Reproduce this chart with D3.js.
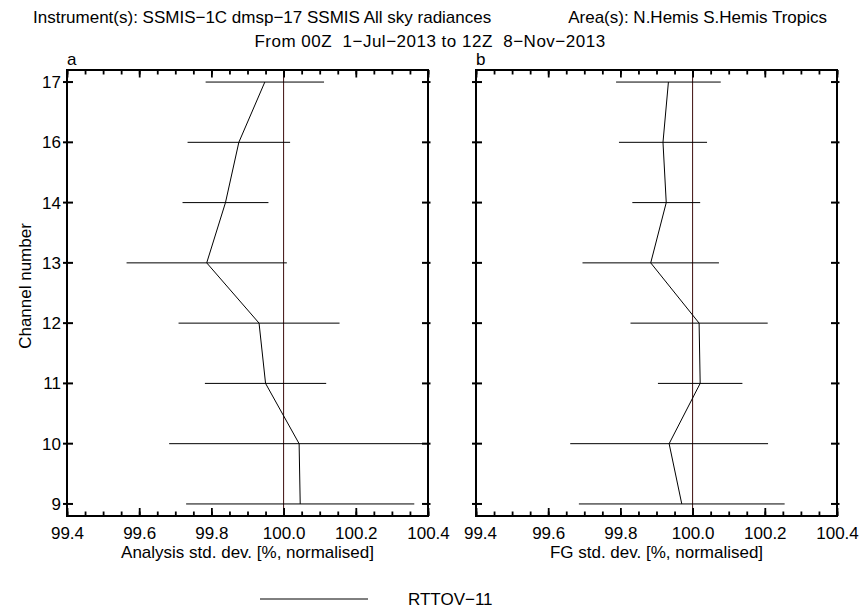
<!DOCTYPE html>
<html>
<head>
<meta charset="utf-8">
<script src="https://cdn.jsdelivr.net/npm/d3@7"></script>
<style>
  html, body { margin: 0; padding: 0; background: #fff; }
  svg { display: block; font-family: "Liberation Sans", Arial, Helvetica, sans-serif; }
</style>
</head>
<body>
<svg id="chart" width="864" height="613"></svg>
<script>
// Channels shown on the vertical axis (bottom to top)
const channels = ["9", "10", "11", "12", "13", "14", "16", "17"];

// Analysis departure std. dev., normalised [%]: mean and half-width of the confidence bar
const analysisMean = [100.046, 100.043, 99.950, 99.932, 99.787, 99.839, 99.876, 99.948];
const analysisErr  = [0.316, 0.360, 0.168, 0.223, 0.222, 0.119, 0.142, 0.164];

// First-guess departure std. dev., normalised [%]
const fgMean = [99.970, 99.935, 100.021, 100.018, 99.884, 99.927, 99.918, 99.933];
const fgErr  = [0.285, 0.274, 0.117, 0.190, 0.189, 0.094, 0.122, 0.145];

const xMajorTicks = [99.4, 99.6, 99.8, 100.0, 100.2, 100.4];
const xDomain = [99.4, 100.4];
const refValue = 100.0;

const titleLeft = "Instrument(s): SSMIS\u22121C dmsp\u221217 SSMIS All sky radiances";
const titleRight = "Area(s): N.Hemis S.Hemis Tropics";
const subtitle = "From 00Z  1\u2212Jul\u22122013 to 12Z  8\u2212Nov\u22122013";
const seriesName = "RTTOV\u221211";

const svg = d3.select("#chart");
const FONT = 17;

// Titles
svg.append("text").attr("x", 33).attr("y", 23).attr("font-size", FONT)
  .attr("xml:space", "preserve").text(titleLeft);
svg.append("text").attr("x", 827).attr("y", 23).attr("font-size", FONT)
  .attr("text-anchor", "end").text(titleRight);
svg.append("text").attr("x", 430).attr("y", 47).attr("font-size", FONT)
  .attr("letter-spacing", 0.5)
  .attr("text-anchor", "middle").attr("xml:space", "preserve").text(subtitle);

const plotTop = 70, plotBottom = 516;
const panels = [
  { id: "a", left: 67, right: 428, mean: analysisMean, err: analysisErr,
    xlabel: "Analysis std. dev. [%, normalised]", yAxis: true },
  { id: "b", left: 476, right: 837, mean: fgMean, err: fgErr,
    xlabel: "FG std. dev. [%, normalised]", yAxis: false }
];

const y = d3.scalePoint().domain(channels).range([plotBottom, plotTop]).padding(0.2);
const minorTicks = d3.range(0, 21).map(i => +(99.4 + i * 0.05).toFixed(2));

panels.forEach((p, pi) => {
  const x = d3.scaleLinear().domain(xDomain).range([p.left, p.right]);
  const g = svg.append("g");

  const clipId = "clip-" + p.id;
  svg.append("clipPath").attr("id", clipId).append("rect")
    .attr("x", p.left).attr("y", plotTop)
    .attr("width", p.right - p.left).attr("height", plotBottom - plotTop);

  const data = channels.map((c, i) => ({ c, m: p.mean[i], e: p.err[i] }));
  const plot = g.append("g").attr("clip-path", `url(#${clipId})`);

  // Reference line at 100 %
  plot.append("line")
    .attr("x1", x(refValue)).attr("x2", x(refValue))
    .attr("y1", plotTop).attr("y2", plotBottom)
    .attr("stroke", "#3c0c0c").attr("stroke-width", 1);

  // Confidence bars
  plot.selectAll("line.err").data(data).enter().append("line")
    .attr("class", "err")
    .attr("x1", d => x(d.m - d.e)).attr("x2", d => x(d.m + d.e))
    .attr("y1", d => y(d.c)).attr("y2", d => y(d.c))
    .attr("stroke", "#000").attr("stroke-width", 1);

  // Profile line
  plot.append("path").datum(data)
    .attr("fill", "none").attr("stroke", "#000").attr("stroke-width", 1)
    .attr("d", d3.line().x(d => x(d.m)).y(d => y(d.c)));

  // Bottom axis: major ticks with labels, minor ticks
  const bMinor = g.append("g").attr("transform", `translate(0,${plotBottom})`)
    .call(d3.axisBottom(x).tickValues(minorTicks).tickSize(-4.5).tickFormat(""));
  const bMajor = g.append("g").attr("transform", `translate(0,${plotBottom})`)
    .call(d3.axisBottom(x).tickValues(xMajorTicks).tickSize(-8).tickPadding(12)
      .tickFormat(d3.format(".1f")));
  bMajor.selectAll("text").attr("font-size", FONT).attr("fill", "#000")
    .attr("font-family", "Liberation Sans, Arial, sans-serif")
    .attr("dy", "0.71em").attr("y", 11);
  if (pi === 1) bMajor.selectAll("text").filter(d => d === 99.4).attr("dx", 4);

  // Top axis: inward ticks, no labels
  const tMinor = g.append("g").attr("transform", `translate(0,${plotTop})`)
    .call(d3.axisTop(x).tickValues(minorTicks).tickSize(-4.5).tickFormat(""));
  const tMajor = g.append("g").attr("transform", `translate(0,${plotTop})`)
    .call(d3.axisTop(x).tickValues(xMajorTicks).tickSize(-7.5).tickFormat(""));

  [bMinor, bMajor, tMinor, tMajor].forEach(a => {
    a.select(".domain").remove();
    a.selectAll(".tick line").attr("stroke", "#000").attr("stroke-width", 1.8);
  });

  // Channel ticks crossing the frame on both sides
  g.selectAll("line.ytl").data(channels).enter().append("line")
    .attr("x1", p.left - 4).attr("x2", p.left + 6)
    .attr("y1", d => y(d)).attr("y2", d => y(d))
    .attr("stroke", "#000").attr("stroke-width", 2);
  g.selectAll("line.ytr").data(channels).enter().append("line")
    .attr("x1", p.right - 6).attr("x2", p.right + 2.5)
    .attr("y1", d => y(d)).attr("y2", d => y(d))
    .attr("stroke", "#000").attr("stroke-width", 2);

  if (p.yAxis) {
    const ya = g.append("g").attr("transform", `translate(${p.left},0)`)
      .call(d3.axisLeft(y).tickSize(0).tickPadding(6));
    ya.select(".domain").remove();
    ya.selectAll("text").attr("font-size", FONT).attr("fill", "#000")
      .attr("font-family", "Liberation Sans, Arial, sans-serif");
  }

  // Frame
  g.append("rect")
    .attr("x", p.left).attr("y", plotTop)
    .attr("width", p.right - p.left).attr("height", plotBottom - plotTop)
    .attr("fill", "none").attr("stroke", "#000").attr("stroke-width", 2);

  // Panel letter
  g.append("text").attr("x", p.left).attr("y", 65).attr("font-size", FONT).text(p.id);

  // X axis title
  g.append("text").attr("x", (p.left + p.right) / 2).attr("y", 558)
    .attr("text-anchor", "middle").attr("font-size", FONT).text(p.xlabel);
});

// Y axis title
svg.append("text")
  .attr("transform", "translate(31,286) rotate(-90)")
  .attr("text-anchor", "middle").attr("font-size", FONT)
  .text("Channel number");

// Legend
svg.append("line").attr("x1", 260).attr("x2", 368).attr("y1", 599).attr("y2", 599)
  .attr("stroke", "#000").attr("stroke-width", 1);
svg.append("text").attr("x", 408).attr("y", 605).attr("font-size", FONT).text(seriesName);
</script>
</body>
</html>
